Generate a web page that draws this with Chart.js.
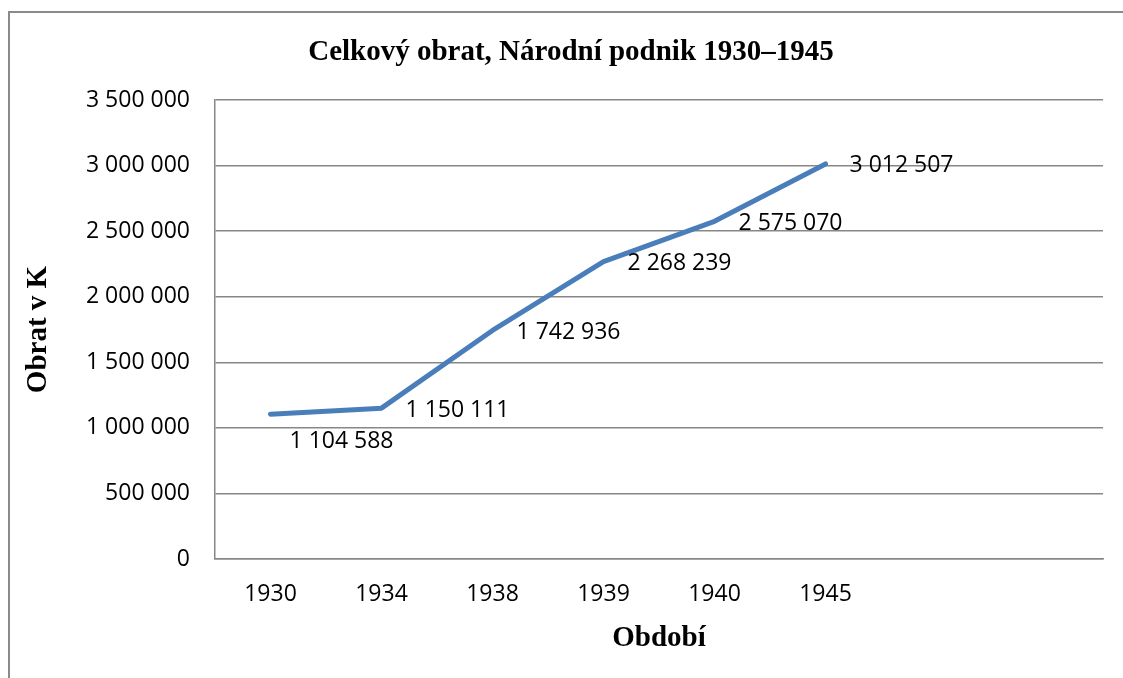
<!DOCTYPE html>
<html>
<head>
<meta charset="utf-8">
<script src="https://cdn.jsdelivr.net/npm/chart.js@4.4.0/dist/chart.umd.min.js"></script>
<style>
    body { margin: 0; background: #fff; }
    #frame { position: absolute; left: 8px; top: 11px; width: 1200px; height: 800px; border: 2px solid #8a8a8a; }
    #wrap { position: absolute; left: 0; top: 0; width: 1123px; height: 678px; }
</style>
</head>
<body>
<div id="frame"></div>
<div id="wrap"><canvas id="turnoverChart" width="1123" height="678"></canvas></div>
<script>
// data
const years = ['1930', '1934', '1938', '1939', '1940', '1945', '', ''];
const turnover = [1104588, 1150111, 1742936, 2268239, 2575070, 3012507, null, null];
const yMax = 3500000;
const yStep = 500000;

const chartTitle = 'Celkový obrat, Národní podnik 1930–1945';
const yTitle = 'Obrat v K';
const xTitle = 'Období';

function formatNum(v) {
    return String(v).replace(/\B(?=(\d{3})+(?!\d))/g, ' ');
}

const tickFont = { family: 'Open Sans', size: 23 };
const titleFont = { family: 'Liberation Serif', size: 29, weight: 'bold' };
const gridColor = '#878787';

// title drawn over the whole frame
const titlePlugin = {
    id: 'frameTitle',
    afterDraw(chart) {
        let ctx = chart.ctx;
        ctx.save();
        ctx.font = 'bold 29px "Liberation Serif"';
        ctx.fillStyle = '#000';
        ctx.textAlign = 'center';
        ctx.textBaseline = 'middle';
        ctx.fillText(chartTitle, 571, 53);
        ctx.restore();
    }
};

// value labels to the right of each point (first one sits below)
const labelPlugin = {
    id: 'valueLabels',
    afterDatasetsDraw(chart) {
        let ctx = chart.ctx;
        let meta = chart.getDatasetMeta(0);
        ctx.save();
        ctx.font = '23px "Open Sans"';
        ctx.fillStyle = '#000';
        ctx.textAlign = 'left';
        ctx.textBaseline = 'middle';
        meta.data.forEach((pt, i) => {
            let v = turnover[i];
            if (v === null) return;
            if (i === 0) {
                ctx.fillText(formatNum(v), pt.x + 19, pt.y + 27);
            } else {
                ctx.fillText(formatNum(v), pt.x + 24, pt.y + 2);
            }
        });
        ctx.restore();
    }
};

let ctx = document.getElementById('turnoverChart').getContext('2d');
let chart = new Chart(ctx, {
    type: 'line',
    data: {
        labels: years,
        datasets: [{
            label: 'Celkový obrat',
            data: turnover,
            borderColor: '#4a7ebb',
            borderWidth: 5,
            borderCapStyle: 'round',
            borderJoinStyle: 'round',
            pointRadius: 0,
            tension: 0,
            fill: false
        }]
    },
    options: {
        responsive: false,
        animation: false,
        layout: { padding: { top: 100, left: 0, right: 20, bottom: 0 } },
        plugins: {
            legend: { display: false },
            title: { display: false },
            tooltip: { enabled: false }
        },
        scales: {
            x: {
                offset: true,
                grid: { display: false, drawTicks: false },
                border: { display: true, color: gridColor, width: 1.5 },
                ticks: { color: '#000', font: tickFont, padding: 22, autoSkip: false, maxRotation: 0 },
                title: { display: true, text: xTitle, color: '#000', font: titleFont, padding: { top: 0, bottom: 22 } },
                afterFit(scale) { scale.height = 119; }
            },
            y: {
                min: 0,
                max: yMax,
                grid: { color: gridColor, lineWidth: 1.5, drawTicks: false },
                border: { display: true, color: gridColor, width: 1.5 },
                ticks: {
                    stepSize: yStep,
                    color: '#000',
                    font: tickFont,
                    padding: 25,
                    callback: v => formatNum(v)
                },
                title: { display: true, text: yTitle, color: '#000', font: titleFont, padding: { top: 21, bottom: 0 } },
                afterFit(scale) { scale.width = 215; }
            }
        }
    },
    plugins: [titlePlugin, labelPlugin]
});
</script>
</body>
</html>
